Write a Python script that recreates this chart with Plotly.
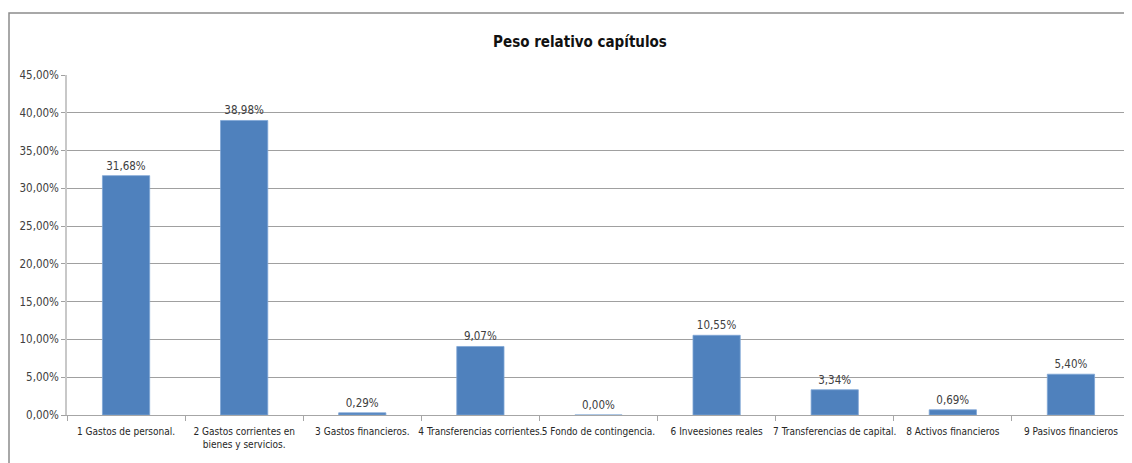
import plotly.graph_objects as go

categories = [
    "1 Gastos de personal.",
    "2 Gastos corrientes en<br>bienes y servicios.",
    "3 Gastos financieros.",
    "4 Transferencias corrientes.",
    "5 Fondo de contingencia.",
    "6 Inveesiones reales",
    "7 Transferencias de capital.",
    "8 Activos financieros",
    "9 Pasivos financieros",
]
values = [0.3168, 0.3898, 0.0029, 0.0907, 0.0000, 0.1055, 0.0334, 0.0069, 0.0540]
y_ticks = [0, 0.05, 0.10, 0.15, 0.20, 0.25, 0.30, 0.35, 0.40, 0.45]

FONT = "DejaVu Sans Condensed, Liberation Sans Narrow, sans-serif"

fig = go.Figure(
    go.Bar(
        x=categories,
        y=values,
        marker=dict(color="#4F81BD", line=dict(color="#7FA6D6", width=0.8)),
        texttemplate="%{y:.2%}",
        textposition="outside",
        textfont=dict(family=FONT, size=11.5, color="#404040"),
        cliponaxis=False,
    )
)

# the page body adds an 8px offset, so the figure is 8px smaller
W, H = 1124, 455
ml, mr, mt, mb = 59, 2, 67, 48

fig.update_layout(
    width=W,
    height=H,
    margin=dict(l=ml, r=mr, t=mt, b=mb, autoexpand=False),
    paper_bgcolor="white",
    plot_bgcolor="white",
    separators=",.",
    bargap=0.6,
    showlegend=False,
    font=dict(family=FONT, size=11, color="#404040"),
    title=dict(
        text="<b>Peso relativo capítulos</b>",
        x=(572 - ml) / (W - ml - mr),
        xanchor="center",
        xref="paper",
        y=1 - 34 / H,
        yanchor="middle",
        font=dict(family=FONT, size=15, color="#111111"),
    ),
)

fig.update_xaxes(
    automargin=False,
    showline=True,
    linecolor="#a6a6a6",
    linewidth=1,
    ticks="outside",
    tickson="boundaries",
    ticklen=5,
    tickcolor="#a6a6a6",
    ticklabelstandoff=7,
    tickfont=dict(family=FONT, size=10, color="#262626"),
    showgrid=False,
    tickangle=0,
)
fig.update_yaxes(
    automargin=False,
    range=[0, 0.45],
    tickvals=y_ticks,
    tickformat=".2%",
    showline=True,
    linecolor="#c8c8c8",
    linewidth=1.5,
    showgrid=True,
    gridcolor="#a0a0a0",
    gridwidth=1,
    ticks="outside",
    ticklen=4,
    tickcolor="#a0a0a0",
    tickfont=dict(family=FONT, size=11.5, color="#404040"),
    zeroline=False,
)

# chart frame (outer border of the original chart area)
pw = W - ml - mr
ph = H - mt - mb
fig.add_shape(
    type="rect",
    xref="paper",
    yref="paper",
    x0=(1 - ml) / pw,
    x1=(W + 20 - ml) / pw,
    y0=-(mb + 20) / ph,
    y1=(H - mb - 5) / ph,
    line=dict(color="#8c8c8c", width=1.5),
    layer="below",
)

fig.write_html("out.html")
